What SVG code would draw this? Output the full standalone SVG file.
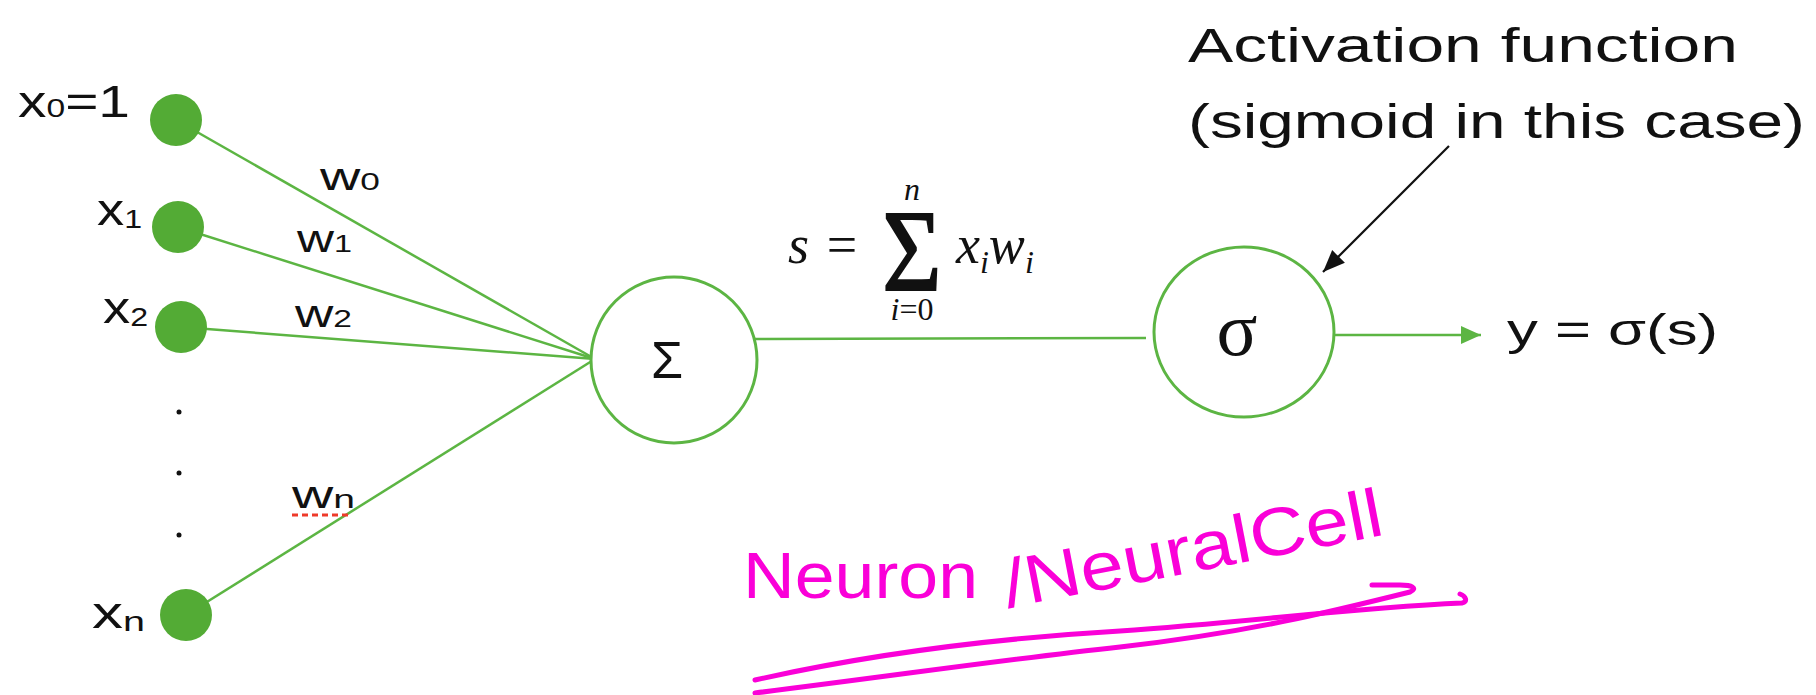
<svg xmlns="http://www.w3.org/2000/svg" width="1816" height="695" viewBox="0 0 1816 695">
<style>
.edge{stroke:#5cb543;stroke-width:2.5;fill:none}
.node{fill:#53ab35}
.ring{fill:#fff;stroke:#5cb543;stroke-width:3}
.hand{font-family:"Liberation Sans",Arial,sans-serif;fill:#111}
.math{font-family:"Liberation Serif","Times New Roman",serif;fill:#111}
.ink{stroke:#fa00d8;stroke-width:5;fill:none;stroke-linecap:round;stroke-linejoin:round}
.inktext{font-family:"Liberation Sans",Arial,sans-serif;fill:#fa00d8}
</style>
<defs>
<marker id="ga" markerUnits="userSpaceOnUse" markerWidth="22" markerHeight="20" refX="20" refY="10" orient="auto">
<path d="M0,1 L20,10 L0,19 Z" fill="#5cb543"/>
</marker>
<marker id="ka" markerUnits="userSpaceOnUse" markerWidth="24" markerHeight="20" refX="22" refY="10" orient="auto">
<path d="M0,1 L22,10 L0,19 Z" fill="#111"/>
</marker>
</defs>
<rect width="1816" height="695" fill="#fff"/>

<g id="connectors">
<line class="edge" x1="176" y1="120" x2="595" y2="359"/>
<line class="edge" x1="178" y1="227" x2="595" y2="359"/>
<line class="edge" x1="181" y1="327" x2="595" y2="359"/>
<line class="edge" x1="186" y1="615" x2="595" y2="359"/>
<line class="edge" x1="751" y1="339" x2="1146" y2="338"/>
<line class="edge" x1="1334" y1="335" x2="1481" y2="335" marker-end="url(#ga)"/>
<line x1="1449" y1="146" x2="1323" y2="272" stroke="#111" stroke-width="2.2" marker-end="url(#ka)"/>
</g>

<g id="input-x0">
<circle class="node" cx="176" cy="120" r="26"/>
<text class="hand" x="18" y="117" font-size="44" textLength="112" lengthAdjust="spacingAndGlyphs">x<tspan font-size="26">0</tspan>=1</text>
</g>
<g id="input-x1">
<circle class="node" cx="178" cy="227" r="26"/>
<text class="hand" x="97" y="225" font-size="44" textLength="45" lengthAdjust="spacingAndGlyphs">x<tspan font-size="26" dy="3">1</tspan></text>
</g>
<g id="input-x2">
<circle class="node" cx="181" cy="327" r="26"/>
<text class="hand" x="103" y="323" font-size="44" textLength="45" lengthAdjust="spacingAndGlyphs">x<tspan font-size="26" dy="3">2</tspan></text>
</g>
<g id="ellipsis">
<circle cx="179" cy="412" r="2.5" fill="#111"/>
<circle cx="179" cy="473" r="2.5" fill="#111"/>
<circle cx="179" cy="535" r="2.5" fill="#111"/>
</g>
<g id="input-xn">
<circle class="node" cx="186" cy="615" r="26"/>
<text class="hand" x="92" y="628" font-size="44" textLength="53" lengthAdjust="spacingAndGlyphs">x<tspan font-size="28" dy="3">n</tspan></text>
</g>

<g id="weights">
<text class="hand" x="320" y="190" font-size="38" textLength="60" lengthAdjust="spacingAndGlyphs">w<tspan font-size="24">0</tspan></text>
<text class="hand" x="297" y="252" font-size="38" textLength="55" lengthAdjust="spacingAndGlyphs">w<tspan font-size="24">1</tspan></text>
<text class="hand" x="295" y="327" font-size="38" textLength="57" lengthAdjust="spacingAndGlyphs">w<tspan font-size="24">2</tspan></text>
<text class="hand" x="292" y="508" font-size="38" textLength="63" lengthAdjust="spacingAndGlyphs">w<tspan font-size="26">n</tspan></text>
<line x1="292" y1="515" x2="352" y2="515" stroke="#ee3a2a" stroke-width="3" stroke-dasharray="6,4"/>
</g>

<g id="sum-node">
<circle class="ring" cx="674" cy="360" r="83"/>
<text x="667" y="378" font-size="52" text-anchor="middle" font-family="Liberation Sans,Arial,sans-serif" fill="#111">Σ</text>
</g>

<g id="formula">
<text class="math" x="788" y="263" font-size="54" font-style="italic">s</text>
<text class="math" x="842" y="263" font-size="54" text-anchor="middle">=</text>
<text class="math" x="912" y="290" font-size="100" text-anchor="middle" stroke="#111" stroke-width="1.6" transform="translate(912 290) scale(1.02 1.16) translate(-912 -290)">Σ</text>
<text class="math" x="912" y="200" font-size="32" font-style="italic" text-anchor="middle">n</text>
<text class="math" x="912" y="320" font-size="32" text-anchor="middle"><tspan font-style="italic">i</tspan>=0</text>
<text class="math" x="956" y="263" font-size="54" font-style="italic">x<tspan font-size="32" dy="10">i</tspan><tspan dy="-10">w</tspan><tspan font-size="32" dy="10">i</tspan></text>
</g>

<g id="sigma-node">
<ellipse class="ring" cx="1244" cy="332" rx="90" ry="85"/>
<text class="math" x="1237" y="355" font-size="76" text-anchor="middle">σ</text>
</g>

<g id="output">
<text class="hand" x="1507" y="345" font-size="44" textLength="211" lengthAdjust="spacingAndGlyphs">y = σ(s)</text>
</g>

<g id="annotation">
<text class="hand" x="1188" y="62" font-size="48" textLength="550" lengthAdjust="spacingAndGlyphs">Activation function</text>
<text class="hand" x="1188" y="138" font-size="48" textLength="617" lengthAdjust="spacingAndGlyphs">(sigmoid in this case)</text>
</g>

<g id="handwritten-note">
<text class="inktext" x="743" y="598" font-size="64" textLength="235" lengthAdjust="spacingAndGlyphs">Neuron</text>
<text class="inktext" x="1008" y="608" font-size="68" textLength="385" lengthAdjust="spacingAndGlyphs" transform="rotate(-11 1008 608)">/NeuralCell</text>
<path class="ink" d="M755 680 C880 652 1000 638 1120 631 C1250 622 1350 608 1462 603 C1468 602 1466 596 1460 594"/>
<path class="ink" d="M755 693 C900 675 1000 660 1120 647 C1250 632 1330 612 1410 592 C1418 588 1412 585 1400 585 L1372 585"/>
</g>
</svg>
